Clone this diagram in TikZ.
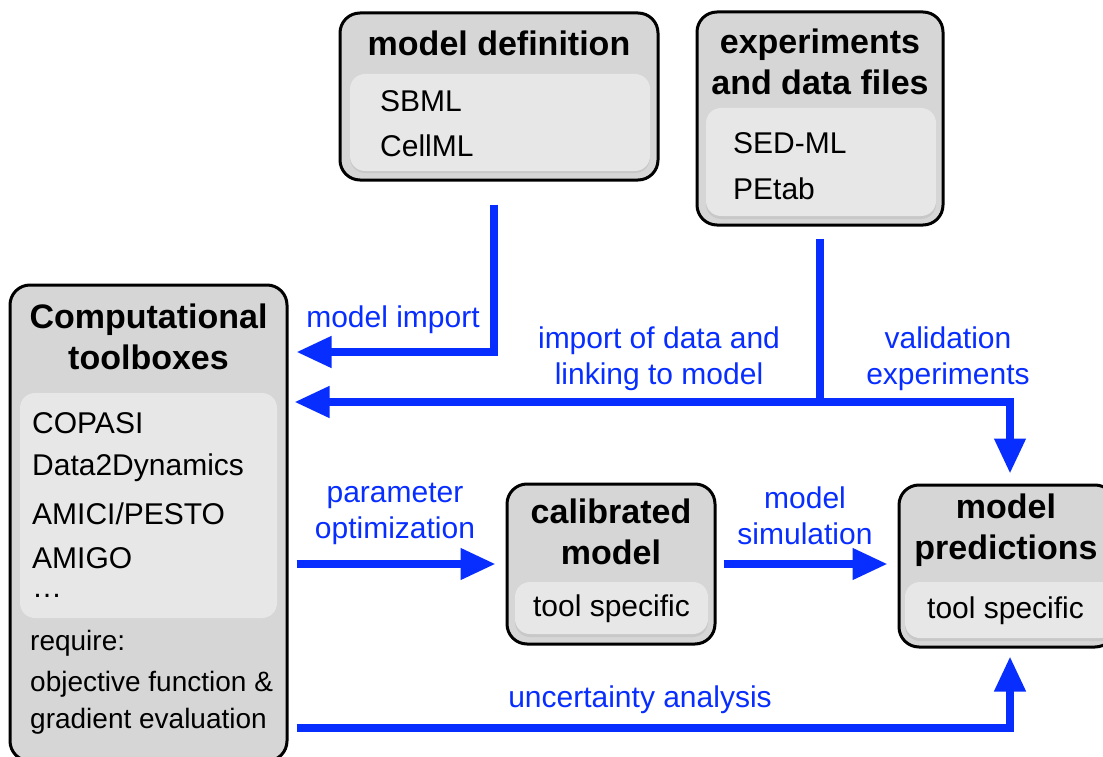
\documentclass[tikz,border=0pt]{standalone}
\usepackage{fontspec}
\setmainfont{Liberation Sans}
\usetikzlibrary{positioning,arrows.meta,calc}
\definecolor{Flow}{RGB}{8,46,255}
\definecolor{Shell}{RGB}{214,214,214}
\definecolor{Panel}{RGB}{231,231,231}
\definecolor{Shade}{RGB}{200,200,200}

\begin{document}
\begin{tikzpicture}[x=1pt,y=-1pt,
 outer/.style={draw=black,line width=3pt,fill=Shell,rounded corners=20pt,inner sep=0pt},
 panel/.style={fill=Panel,rounded corners=15pt,inner sep=0pt},
 ttl/.style={font=\fontsize{34}{41}\selectfont\bfseries,align=center,inner sep=0pt},
 itm/.style={font=\fontsize{30}{36}\selectfont,anchor=west,inner sep=0pt},
 req/.style={itm,font=\fontsize{28}{34}\selectfont},
 lbl/.style={font=\fontsize{30}{36}\selectfont,text=Flow,align=center,inner sep=0pt},
 a/.style={-{Triangle[length=35pt,width=30pt]},line width=7.5pt,Flow}]
\useasboundingbox (0,0) rectangle (1103,757);
% boxes
\node[outer,minimum width=318pt,minimum height=167pt] (mdef) at (499,96.5) {};
\node[outer,minimum width=246pt,minimum height=213pt] (expt) at (820,118.5) {};
\node[outer,minimum width=277pt,minimum height=476pt] (tool) at (148.5,523) {};
\node[outer,minimum width=208pt,minimum height=160pt] (calib) at (611,564) {};
\node[outer,minimum width=216pt,minimum height=162pt] (pred) at (1007,566) {};
% inner panels
\fill[Shade,rounded corners=15pt] (350,76) rectangle (650,173);
\node[panel,minimum width=300pt,minimum height=97pt] (mdefin) at (500,122.5) {};
\fill[Shade,rounded corners=15pt] (706,111) rectangle (936,219);
\node[panel,minimum width=230pt,minimum height=108pt] (exptin) at (821,162) {};
\node[panel,minimum width=257pt,minimum height=225pt] (toolin) at (148.5,505.5) {};
\fill[Shade,rounded corners=15pt] (515,585) rectangle (708,637);
\node[panel,minimum width=193pt,minimum height=52pt] (calibin) at (611.5,608) {};
\fill[Shade,rounded corners=15pt] (905,585) rectangle (1115,641);
\node[panel,minimum width=210pt,minimum height=56pt] (predin) at (1010,610) {};
% titles and items
\node[ttl] (mdeft) at (499,43) {model definition};
\node[itm] (sbml) at (380,101) {SBML};
\node[itm] (cellml) at (380,146) {CellML};
\node[ttl] (exptt) at (820,62) {experiments\\and data files};
\node[itm] (sedml) at (733,143) {SED-ML};
\node[itm] (petab) at (733,189) {PEtab};
\node[ttl] (toolt) at (148.5,337) {Computational\\toolboxes};
\node[itm] (copasi) at (32,423) {COPASI};
\node[itm] (d2d) at (32,468) {Data2Dynamics};
\node[itm] (amici) at (32,514) {AMICI/PESTO};
\node[itm] (amigo) at (32,558) {AMIGO};
\node[itm,anchor=base west] (dots) at (32,597) {\dots};
\node[req] (reqt) at (30,643) {require:};
\node[req] (objf) at (30,684) {objective function \&};
\node[req] (grad) at (30,721) {gradient evaluation};
\node[ttl] (calibt) at (611,532) {calibrated\\model};
\node[itm,anchor=center] (calibs) at (611.5,609) {tool specific};
\node[ttl] (predt) at (1006,530) {model\\predictions};
\node[itm] (preds) at (927,611) {tool specific};
% connectors
\coordinate (mimp) at (494,352);
\coordinate (join) at (820,402);
\coordinate (unc) at (1010,728);
\draw[a,shorten <=23pt] (mdef.south -| mimp) -- (mimp) -- (mimp -| tool.east) [shorten >=8pt];
\draw[a,shorten <=12pt,shorten >=6pt] (expt.south) -- (join) -- (join -| tool.east);
\draw[a,shorten >=10pt] (join) -| (pred.north -| unc);
\draw[a,shorten <=8pt,shorten >=10pt] (tool.east |- calib) -- (calib.west);
\draw[a,shorten <=7pt,shorten >=10pt] (calib.east) -- (pred.west |- calib);
\draw[a,shorten <=8pt,shorten >=8pt] (tool.east |- unc) -| (pred.south -| unc);
% labels
\node[lbl] (limp) at (393,320) {model import};
\node[lbl] (ldat) at (659,359) {import of data and\\linking to model};
\node[lbl] (lval) at (948,359) {validation\\experiments};
\node[lbl] (lopt) at (395,514) {parameter\\optimization};
\node[lbl] (lsim) at (805,516) {model\\simulation};
\node[lbl] (lunc) at (640,700) {uncertainty analysis};
\end{tikzpicture}
\end{document}
